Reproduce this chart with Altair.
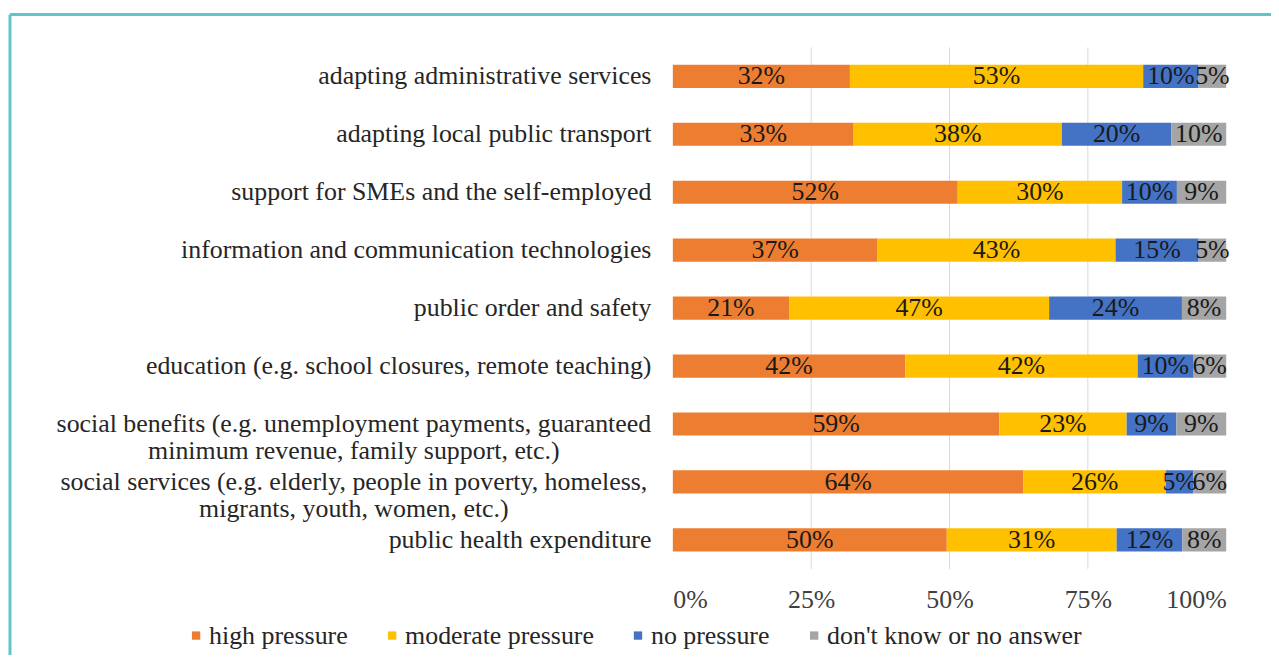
import altair as alt
import pandas as pd

categories = [
    "adapting administrative services",
    "adapting local public transport",
    "support for SMEs and the self-employed",
    "information and communication technologies",
    "public order and safety",
    "education (e.g. school closures, remote teaching)",
    "social benefits (e.g. unemployment payments, guaranteed|minimum revenue, family support, etc.)",
    "social services (e.g. elderly, people in poverty, homeless,|migrants, youth, women, etc.)",
    "public health expenditure",
]
series = ["high pressure", "moderate pressure", "no pressure", "don't know or no answer"]
high = [32, 33, 52, 37, 21, 42, 59, 64, 50]
moderate = [53, 38, 30, 43, 47, 42, 23, 26, 31]
no_pressure = [10, 20, 10, 15, 24, 10, 9, 5, 12]
dont_know = [5, 10, 9, 5, 8, 6, 9, 6, 8]
colors = ["#ED7D31", "#FFC000", "#4472C4", "#A5A5A5"]
grid_values = [0.25, 0.5, 0.75]
tick_values = [0, 0.25, 0.5, 0.75, 1]

rows = []
for si, (name, vals) in enumerate(zip(series, [high, moderate, no_pressure, dont_know])):
    for c, v in zip(categories, vals):
        rows.append({"category": c, "series": name, "order": si, "value": v})
df = pd.DataFrame(rows)

FONT = "Liberation Serif"
FS = 26

base = alt.Chart(df).transform_stack(
    stack="value",
    groupby=["category"],
    as_=["v0", "v1"],
    offset="normalize",
    sort=[alt.SortField("order", order="ascending")],
)

yscale = alt.Scale(paddingInner=0.6, paddingOuter=0.3)

# single-line labels: right aligned on the left axis
y_left = alt.Y(
    "category:N",
    sort=categories,
    title=None,
    scale=yscale,
    axis=alt.Axis(
        orient="left",
        labelExpr="indexof(datum.label, '|') >= 0 ? '' : datum.label",
        ticks=False,
        domain=False,
        grid=False,
        labelPadding=22,
        labelLimit=1000,
        labelFont=FONT,
        labelFontSize=FS,
        labelColor="#262626",
    ),
)

# two-line labels: centred lines, like the original
y_wrap = alt.Y(
    "category:N",
    sort=categories,
    title=None,
    scale=yscale,
    axis=alt.Axis(
        orient="right",
        offset=-877,
        labelExpr="indexof(datum.label, '|') < 0 ? '' : split(datum.label, '|')",
        labelAlign="center",
        ticks=False,
        tickSize=0,
        domain=False,
        grid=False,
        labelPadding=0,
        labelLimit=1000,
        labelFont=FONT,
        labelFontSize=FS,
        labelColor="#262626",
        labelLineHeight=27,
    ),
)

x_enc = alt.X(
    "v0:Q",
    scale=alt.Scale(domain=[0, 1], nice=False),
    title=None,
    axis=alt.Axis(
        format=".0%",
        values=tick_values,
        ticks=False,
        domain=False,
        grid=False,
        labelPadding=18,
        labelFont=FONT,
        labelFontSize=FS,
        labelColor="#404040",
    ),
)

grid = alt.Chart(pd.DataFrame({"g": grid_values})).mark_rule(color="#D9D9D9", strokeWidth=1).encode(
    x=alt.X("g:Q", scale=alt.Scale(domain=[0, 1], nice=False))
)

bars = base.mark_bar().encode(
    y=y_left,
    x=x_enc,
    x2="v1:Q",
    color=alt.Color(
        "series:N",
        scale=alt.Scale(domain=series, range=colors),
        legend=alt.Legend(
            title=None,
            orient="none",
            legendX=-492,
            legendY=578,
            direction="horizontal",
            symbolType="square",
            symbolSize=70,
            symbolStrokeWidth=0,
            labelFont=FONT,
            labelFontSize=FS,
            labelColor="#262626",
            labelLimit=500,
            labelOffset=0,
            columnPadding=31,
        ),
    ),
)

text = base.transform_calculate(
    mid="(datum.v0 + datum.v1) / 2", lbl="datum.value + '%'"
).mark_text(font=FONT, fontSize=FS, color="#1a1a1a", baseline="middle").encode(
    y=y_wrap,
    x=alt.X("mid:Q"),
    text="lbl:N",
)

frame_top = alt.Chart(pd.DataFrame({"a": [0]})).mark_rule(color="#5FC4CC", strokeWidth=3).encode(
    x=alt.value(-666), x2=alt.value(620), y=alt.value(-33)
)
frame_left = alt.Chart(pd.DataFrame({"a": [0]})).mark_rule(color="#5FC4CC", strokeWidth=3).encode(
    x=alt.value(-666), y=alt.value(-33), y2=alt.value(700)
)

chart = alt.layer(grid, bars, text, frame_top, frame_left).resolve_axis(y="independent").properties(
    width=556,
    height=524,
    autosize=alt.AutoSizeParams(type="none"),
    padding={"left": 668, "top": 38, "right": 45, "bottom": 85},
).configure_view(stroke=None)

chart.save("out.html", embed_options={"renderer": "svg", "actions": False})
